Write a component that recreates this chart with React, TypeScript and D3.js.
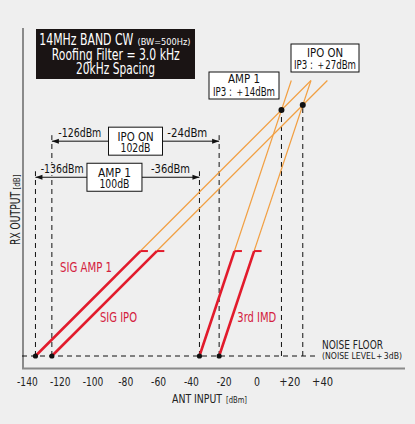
import React from 'react';
import * as d3 from 'd3';

// x: antenna input (dBm), y: rx output (dB above noise floor)
const xTicks = [-140, -120, -100, -80, -60, -40, -20, 0, 20, 40];
const xTickLabels = ['-140', '-120', '-100', '-80', '-60', '-40', '-20', '0', '+20', '+40'];

// [input, output] : noise floor start, end of red part, end of orange extension
const sigAmp1: [number, number][] = [[-136, 0], [-72, 64], [32, 168]];
const sigIpo: [number, number][] = [[-126, 0], [-62, 64], [42, 168]];
const imdAmp1: [number, number][] = [[-36, 0], [-14.67, 64], [20, 168]];
const imdIpo: [number, number][] = [[-24, 0], [-2.67, 64], [32, 168]];

const intercepts: [number, number][] = [[14, 150], [27, 153]];

// dynamic range spans: [from, to, arrow level]
const rangeIpo = [-126, -24, 131];
const rangeAmp1 = [-136, -36, 109];

const FONT = '"DejaVu Sans Condensed", "Liberation Sans", sans-serif';
const BG = '#efefef';
const RED = '#e21b2c';
const ORANGE = '#f2a043';
const LABEL_RED = '#d4213d';

// text squeezed to the width it has in the reference (condensed face)
const T = (p: any) => (
  <text lengthAdjust="spacingAndGlyphs" fill="#111" {...p}>{p.children}</text>
);

const tickWidth = (s: string) =>
  s === '0' ? 6 : s.startsWith('+') ? 21 : s.length === 4 ? 20.6 : 15;

export default function App() {
  const width = 415;
  const height = 424;

  const x = d3.scaleLinear().domain([-140, 40]).range([28.9, 324.1]);
  const y = d3.scaleLinear().domain([0, 168]).range([356, 80.5]);

  const line = d3.line<[number, number]>().x(d => x(d[0])).y(d => y(d[1]));

  const series = [sigAmp1, sigIpo, imdAmp1, imdIpo];

  const arrowLine = (
    r: number[], label: string[], leftTxt: string, rightTxt: string,
    boxW: number, labW: number[], sideW: number[], leftX: number, rightEnd: number, shift: number
  ) => {
    const ay = y(r[2]);
    const x1 = x(r[0]);
    const x2 = x(r[1]);
    const cx = (x1 + x2) / 2 + shift;
    return (
      <g>
        <rect x={leftX - 1} y={ay - 14} width={sideW[0] + 2} height={12} fill={BG} />
        <line x1={x1} x2={x2} y1={ay} y2={ay} stroke="#111" strokeWidth={1} />
        <path d={`M${x1},${ay} l7,-2.5 l0,5 z`} fill="#111" />
        <path d={`M${x2},${ay} l-7,-2.5 l0,5 z`} fill="#111" />
        <rect x={cx - boxW / 2} y={ay - 14} width={boxW} height={28} fill="#fff" stroke="#111" strokeWidth={1} />
        <T x={cx} y={ay - 0.5} textAnchor="middle" fontSize={12.5} textLength={labW[0]}>{label[0]}</T>
        <T x={cx} y={ay + 11} textAnchor="middle" fontSize={12.5} textLength={labW[1]}>{label[1]}</T>
        <T x={leftX} y={ay - 4} fontSize={12.5} textLength={sideW[0]}>{leftTxt}</T>
        <T x={rightEnd} y={ay - 4} textAnchor="end" fontSize={12.5} textLength={sideW[1]}>{rightTxt}</T>
      </g>
    );
  };

  return (
    <svg width={width} height={height} style={{ position: 'fixed', left: 0, top: 0 }} fontFamily={FONT}>
      <rect width={width} height={height} fill={BG} />

      {/* axes */}
      <line x1={23} x2={23} y1={28} y2={369} stroke="#8a8a8a" strokeWidth={2} />
      <line x1={22} x2={405} y1={368.5} y2={368.5} stroke="#8a8a8a" strokeWidth={2} />

      {xTicks.map((t, i) => (
        <T key={t} x={x(t) - 1.5} y={386} textAnchor="middle" fontSize={12.5}
          textLength={tickWidth(xTickLabels[i])} fill="#222">{xTickLabels[i]}</T>
      ))}
      <T x={172} y={402.5} fontSize={13} textLength={50} fill="#222">ANT INPUT</T>
      <T x={226} y={402.5} fontSize={9} textLength={21} fill="#222">[dBm]</T>
      <g transform="translate(20,245) rotate(-90)">
        <T x={0} y={0} fontSize={13.5} textLength={53} fill="#222">RX OUTPUT</T>
        <T x={55.5} y={0} fontSize={9} textLength={15} fill="#222">[dB]</T>
      </g>

      {/* noise floor */}
      <line x1={22} x2={318} y1={y(0)} y2={y(0)} stroke="#111" strokeDasharray="5,4" />
      <T x={322} y={348.5} fontSize={12} textLength={61} fill="#222">NOISE FLOOR</T>
      <T x={322} y={358.5} fontSize={9} textLength={80} fill="#222">(NOISE LEVEL＋3dB)</T>

      {/* dashed verticals for ranges */}
      {[rangeIpo, rangeAmp1].map((r, i) =>
        [r[0], r[1]].map(v => (
          <line key={`${i}-${v}`} x1={x(v)} x2={x(v)} y1={y(0)} y2={y(r[2]) - 6} stroke="#111" strokeDasharray="5,4" />
        ))
      )}
      {intercepts.map(p => (
        <line key={p[0]} x1={x(p[0])} x2={x(p[0])} y1={y(0)} y2={y(p[1])} stroke="#111" strokeDasharray="5,4" />
      ))}

      {/* orange extensions */}
      {series.map((s, i) => (
        <path key={`o${i}`} d={line(s.slice(1)) || ''} fill="none" stroke={ORANGE} strokeWidth={1.2} />
      ))}
      {/* red measured parts */}
      {series.map((s, i) => (
        <g key={`r${i}`}>
          <path d={line(s.slice(0, 2)) || ''} fill="none" stroke={RED} strokeWidth={2.6} />
          <line x1={x(s[1][0])} x2={x(s[1][0]) + 7.5} y1={y(s[1][1])} y2={y(s[1][1])} stroke={RED} strokeWidth={2} />
          <circle cx={x(s[0][0])} cy={y(s[0][1])} r={2.6} fill="#111" />
        </g>
      ))}
      {intercepts.map(p => (
        <circle key={`c${p[0]}`} cx={x(p[0])} cy={y(p[1])} r={3} fill="#111" />
      ))}

      <T x={60} y={271.7} fontSize={14} textLength={52} fill={LABEL_RED}>SIG AMP 1</T>
      <T x={100} y={321.7} fontSize={14} textLength={37} fill={LABEL_RED}>SIG IPO</T>
      <T x={237.3} y={321.7} fontSize={14} textLength={39} fill={LABEL_RED}>3rd IMD</T>

      {/* dynamic range arrows */}
      {arrowLine(rangeIpo, ['IPO ON', '102dB'], '-126dBm', '-24dBm', 54, [36, 30], [43, 40], 58.3, 207.3, 0)}
      {arrowLine(rangeAmp1, ['AMP 1', '100dB'], '-136dBm', '-36dBm', 55, [33, 30], [43, 39], 40.7, 190, -3)}

      {/* IP3 boxes */}
      <rect x={209} y={72} width={70} height={27} fill="#fff" stroke="#111" strokeWidth={1} />
      <T x={244} y={83.3} textAnchor="middle" fontSize={12.5} textLength={32}>AMP 1</T>
      <T x={244} y={95.5} textAnchor="middle" fontSize={12} textLength={62}>IP3 : ＋14dBm</T>
      <rect x={291} y={44} width={68} height={28} fill="#fff" stroke="#111" strokeWidth={1} />
      <T x={325} y={57.3} textAnchor="middle" fontSize={12.5} textLength={36}>IPO ON</T>
      <T x={325} y={69.3} textAnchor="middle" fontSize={12} textLength={62}>IP3 : ＋27dBm</T>

      {/* title */}
      <rect x={36} y={29} width={159} height={50} fill="#1a1414" />
      <T x={39.3} y={45} fontSize={15} textLength={94} fill="#fff">14MHz BAND CW</T>
      <T x={137.5} y={44.5} fontSize={9.5} textLength={53} fill="#fff">(BW=500Hz)</T>
      <T x={115.8} y={60} textAnchor="middle" fontSize={15} textLength={128} fill="#fff">Roofing Filter = 3.0 kHz</T>
      <T x={115.5} y={74} textAnchor="middle" fontSize={15} textLength={79} fill="#fff">20kHz Spacing</T>
    </svg>
  );
}
